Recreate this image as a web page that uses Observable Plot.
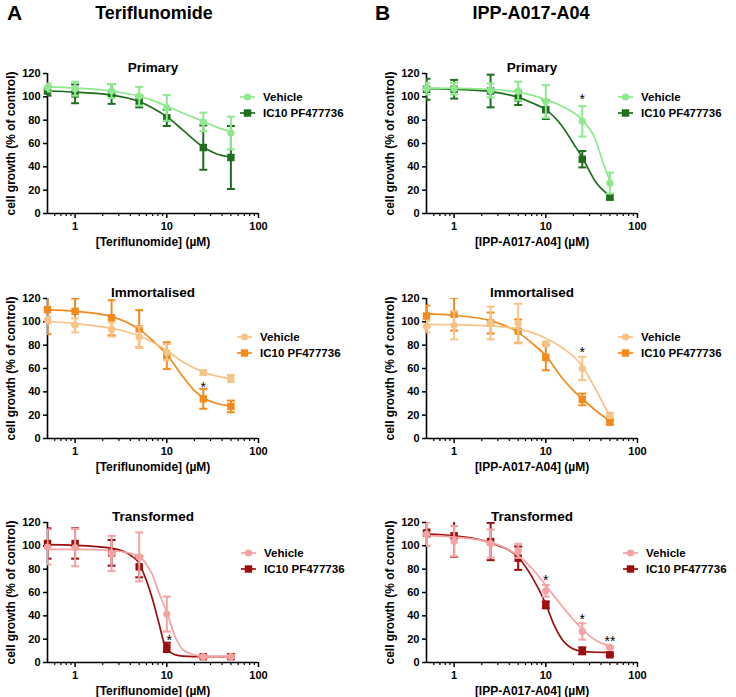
<!DOCTYPE html>
<html><head><meta charset="utf-8">
<script src="https://cdn.jsdelivr.net/npm/d3@7"></script>
<script src="https://cdn.jsdelivr.net/npm/@observablehq/plot@0.6"></script>
<style>
html,body{margin:0;padding:0;background:#fff;}
body{width:736px;height:697px;overflow:hidden;position:relative;font-family:"Liberation Sans",Arial,sans-serif;}
.panel{position:absolute;}
#overlay{position:absolute;left:0;top:0;pointer-events:none;}
</style></head><body>
<script>
// ---------- data ----------
const conc = [0.5, 1, 2.5, 5, 10, 25, 50];
const xMajorTicks = [1, 10, 100];
const xMinorTicks = [0.6, 0.7, 0.8, 0.9, 2, 3, 4, 5, 6, 7, 8, 9, 20, 30, 40, 50, 60, 70, 80, 90];
const yTicks = [0, 20, 40, 60, 80, 100, 120];
const seriesNames = ["Vehicle", "IC10 PF477736"];
const drugs = ["Teriflunomide", "IPP-A017-A04"];
const panelLetters = ["A", "B"];
const cellTypes = ["Primary", "Immortalised", "Transformed"];
const xLabels = ["[Teriflunomide] (µM)", "[IPP-A017-A04] (µM)"];
const yLabel = "cell growth (% of control)";

// Teriflunomide – Primary
const teriPriVeh = [108, 107, 105, 100.5, 90.5, 78.5, 69];
const teriPriVehErr = [3.5, 6, 6, 8, 11, 8, 14];
const teriPriIc = [105, 102.5, 102.5, 96, 82, 56.5, 48];
const teriPriIcErr = [4, 8, 8.5, 5, 7, 19, 27];
const teriPriVehFit = [[0.5,108.5],[1,107.5],[2.5,105],[5,100.5],[7,97],[10,92],[15,86],[25,79],[35,74],[50,70]];
const teriPriIcFit = [[0.5,105],[1,104],[2.5,101.5],[5,96],[7,90.5],[10,83],[15,71.5],[25,57],[35,51],[50,48.5]];
const teriPriStars = [];

// IPP-A017-A04 – Primary
const ippPriVeh = [107, 107, 105.5, 105, 96, 79, 26];
const ippPriVehErr = [5, 5, 6, 8, 14, 13, 9];
const ippPriIc = [106.5, 106.5, 105, 99, 89, 46.5, 14];
const ippPriIcErr = [9, 8, 14, 6, 8, 7, 2];
const ippPriVehFit = [[0.5,107.5],[1,107.3],[2.5,106.5],[5,104],[7,101.5],[10,97.5],[15,92],[25,80],[35,63],[42,44],[50,28]];
const ippPriIcFit = [[0.5,107],[1,106.5],[2.5,104.5],[5,99.5],[7,95],[10,89],[15,75],[20,60],[25,48],[35,27],[50,15]];
const ippPriStars = [[25, 101, "*"]];

// Teriflunomide – Immortalised
const teriImmVeh = [101.5, 97, 93.5, 87, 74, 56.5, 51.5];
const teriImmVehErr = [3, 6, 6, 9, 7, 2, 3];
const teriImmIc = [110.5, 109, 103.5, 94, 71, 34, 27.5];
const teriImmIcErr = [21, 11, 15, 16, 11.5, 8.5, 5];
const teriImmVehFit = [[0.5,100.5],[1,98.5],[2.5,94.5],[5,88],[7,82.5],[10,75.5],[15,65.5],[25,57],[35,53.5],[50,51.5]];
const teriImmIcFit = [[0.5,110.5],[1,109],[2.5,104.5],[5,93.5],[7,84],[10,72],[15,53],[20,41],[25,35],[35,30],[50,28]];
const teriImmStars = [[25, 47, "*"]];

// IPP-A017-A04 – Immortalised
const ippImmVeh = [96, 97, 99, 98.5, 81, 60, 20];
const ippImmVehErr = [5, 12, 14, 17, 2, 10, 2];
const ippImmIc = [105, 106.5, 99, 92, 69.5, 33.5, 14];
const ippImmIcErr = [9, 14, 9, 10, 11, 5, 2];
const ippImmVehFit = [[0.5,97.8],[1,97.5],[2.5,96.5],[5,94],[7,91],[10,86],[15,78],[25,62],[35,42],[50,19]];
const ippImmIcFit = [[0.5,107],[1,105.5],[2.5,101],[5,91],[7,82],[10,71],[15,52],[20,41],[25,34],[35,24],[50,15]];
const ippImmStars = [[25, 77, "*"]];

// Teriflunomide – Transformed
const teriTrVeh = [99, 98.5, 93.5, 90.5, 41.5, 5, 5];
const teriTrVehErr = [15, 16, 15, 21, 15, 1, 1];
const teriTrIc = [102, 102, 94, 82, 13, 5, 5];
const teriTrIcErr = [13, 13, 11, 9, 4, 1, 1];
const teriTrVehFit = [[0.5,97],[1,97],[2.5,96],[4,93.5],[5,91],[6,84],[7,75],[8,62],[10,43],[12.5,21],[15,11],[20,6.5],[25,5],[50,5]];
const teriTrIcFit = [[0.5,101],[1,100.5],[2.5,98],[4,92],[5,85],[6,70],[7,54],[8,37],[10,11],[12.5,6.5],[15,5.5],[25,5],[50,5]];
const teriTrStars = [[10.6, 22, "*"]];

// IPP-A017-A04 – Transformed
const ippTrVeh = [110, 104, 102, 95.7, 61.4, 26.6, 13];
const ippTrVehErr = [10, 13, 12, 6, 5, 7, 1];
const ippTrIc = [111, 108.6, 103.7, 89.4, 49.4, 10, 6.6];
const ippTrIcErr = [3, 18, 16, 10, 3, 3, 1];
const ippTrVehFit = [[0.5,109],[1,107.5],[2.5,103],[5,91.5],[7,81],[10,66],[15,48.5],[25,28.5],[35,19],[50,14]];
const ippTrIcFit = [[0.5,110],[1,108.5],[2.5,102.5],[5,90],[7,74],[10,50],[12.5,31],[15,20],[20,11.5],[25,9.5],[35,8.8],[50,8.7]];
const ippTrStars = [[10, 74, "*"], [25, 40, "*"], [50, 21, "**"]];

// colours per cell type: [vehicle, IC10]
const palette = {
  Primary: ["#8ee88e", "#1f6e1f"],
  Immortalised: ["#f8c386", "#f48a1c"],
  Transformed: ["#f4a2a2", "#9c0d0d"]
};

// ---------- layout ----------
const PW = 300, PH = 198, ML = 47, MT = 23, MB = 35, MR = 42;
const colLeft = [0, 379];
const rowTop = [50, 275, 499];
const legendRowOffset = [24, 39, 31]; // first legend row centre below plot top
const legendLeft = [[240, 618], [237, 618], [241, 623]];

const FONT = "'Liberation Sans', Arial, Helvetica, sans-serif";

const capSymbol = {
  draw(ctx, size) {
    const w = Math.sqrt(size / Math.PI);
    ctx.moveTo(-w, 0); ctx.lineTo(w, 0);
  }
};

function toRows(vals, errs) {
  return conc.map((c, i) => ({x: c, y: vals[i], lo: vals[i] - errs[i], hi: vals[i] + errs[i]}));
}
function toFit(pairs) { return pairs.map(([x, y]) => ({x, y})); }

function makePanel(cfg) {
  const [cV, cI] = palette[cfg.cell];
  const V = toRows(cfg.veh, cfg.vehErr), I = toRows(cfg.ic, cfg.icErr);
  const seriesMarks = (rows, fit, col, sym, r) => [
    Plot.ruleX(rows, {x: "x", y1: "lo", y2: "hi", stroke: col, strokeWidth: 2, clip: true}),
    Plot.dot(rows, {x: "x", y: "hi", symbol: capSymbol, r: 4, fill: "none", stroke: col, strokeWidth: 2, clip: true}),
    Plot.dot(rows, {x: "x", y: "lo", symbol: capSymbol, r: 4, fill: "none", stroke: col, strokeWidth: 2, clip: true}),
    Plot.line(toFit(fit), {x: "x", y: "y", stroke: col, strokeWidth: 1.7, curve: "monotone-x"}),
    Plot.dot(rows, {x: "x", y: "y", symbol: sym, r, fill: col, stroke: "none"})
  ];
  const stars = cfg.stars.map(([x, y, t]) => ({x, y, t}));
  return Plot.plot({
    width: PW, height: PH,
    marginLeft: ML, marginRight: MR, marginTop: MT, marginBottom: MB,
    style: {fontFamily: FONT, fontSize: "11px", fontWeight: "bold", color: "#000", background: "transparent", overflow: "visible"},
    x: {type: "log", domain: [0.5, 100]},
    y: {domain: [0, 120]},
    marks: [
      Plot.axisY({ticks: yTicks, tickSize: 4, tickPadding: 3, strokeWidth: 1.5, fontSize: 11, label: null}),
      Plot.axisY({ticks: [], tickSize: 0, fontSize: 12, fontWeight: "bold",
        label: yLabel, labelAnchor: "center", labelArrow: "none", labelOffset: 41}),
      Plot.axisX({ticks: xMajorTicks, tickSize: 5, tickPadding: 4, strokeWidth: 1.5, fontSize: 11,
        tickFormat: d => String(d), label: null}),
      Plot.axisX({ticks: [], tickSize: 0, fontSize: 12, fontWeight: "bold",
        label: cfg.xlabel, labelAnchor: "center", labelArrow: "none", labelOffset: 32}),
      Plot.axisX({ticks: xMinorTicks, tickSize: 3, strokeWidth: 1.2, tickFormat: () => "", label: null}),
      Plot.ruleY([0], {strokeWidth: 1.6}),
      Plot.ruleX([0.5], {strokeWidth: 1.6}),
      ...seriesMarks(I, cfg.icFit, cI, "square", 4.2),
      ...seriesMarks(V, cfg.vehFit, cV, "circle", 3.6),
      Plot.text(stars, {x: "x", y: "y", text: "t", fontSize: 14, fontWeight: "normal", lineAnchor: "middle", dy: 4, fill: "#000"}),
      Plot.text([cfg.cell], {frameAnchor: "top", dy: -11, fontSize: 13.5, fontWeight: "bold", fill: "#000"})
    ]
  });
}

const configs = [
  {cell: "Primary", col: 0, row: 0, xlabel: xLabels[0], veh: teriPriVeh, vehErr: teriPriVehErr, ic: teriPriIc, icErr: teriPriIcErr, vehFit: teriPriVehFit, icFit: teriPriIcFit, stars: teriPriStars},
  {cell: "Primary", col: 1, row: 0, xlabel: xLabels[1], veh: ippPriVeh, vehErr: ippPriVehErr, ic: ippPriIc, icErr: ippPriIcErr, vehFit: ippPriVehFit, icFit: ippPriIcFit, stars: ippPriStars},
  {cell: "Immortalised", col: 0, row: 1, xlabel: xLabels[0], veh: teriImmVeh, vehErr: teriImmVehErr, ic: teriImmIc, icErr: teriImmIcErr, vehFit: teriImmVehFit, icFit: teriImmIcFit, stars: teriImmStars},
  {cell: "Immortalised", col: 1, row: 1, xlabel: xLabels[1], veh: ippImmVeh, vehErr: ippImmVehErr, ic: ippImmIc, icErr: ippImmIcErr, vehFit: ippImmVehFit, icFit: ippImmIcFit, stars: ippImmStars},
  {cell: "Transformed", col: 0, row: 2, xlabel: xLabels[0], veh: teriTrVeh, vehErr: teriTrVehErr, ic: teriTrIc, icErr: teriTrIcErr, vehFit: teriTrVehFit, icFit: teriTrIcFit, stars: teriTrStars},
  {cell: "Transformed", col: 1, row: 2, xlabel: xLabels[1], veh: ippTrVeh, vehErr: ippTrVehErr, ic: ippTrIc, icErr: ippTrIcErr, vehFit: ippTrVehFit, icFit: ippTrIcFit, stars: ippTrStars}
];

for (const cfg of configs) {
  const div = document.createElement("div");
  div.className = "panel";
  div.style.left = colLeft[cfg.col] + "px";
  div.style.top = rowTop[cfg.row] + "px";
  div.appendChild(makePanel(cfg));
  document.body.appendChild(div);
}

// ---------- headers & legends (overlay) ----------
const svg = d3.select(document.body).append("svg").attr("id", "overlay")
  .attr("width", 736).attr("height", 697)
  .style("font-family", FONT).style("font-weight", "bold");

[[7, 154], [375, 531]].forEach(([lx, tx], i) => {
  svg.append("text").attr("x", lx).attr("y", 20).attr("font-size", 21).text(panelLetters[i]);
  svg.append("text").attr("x", tx).attr("y", 19).attr("font-size", 18).attr("text-anchor", "middle").text(drugs[i]);
});

configs.forEach(cfg => {
  const [cV, cI] = palette[cfg.cell];
  const x0 = legendLeft[cfg.row][cfg.col];
  const y0 = rowTop[cfg.row] + MT + legendRowOffset[cfg.row];
  const textX = x0 + 23;
  [[cV, "circle"], [cI, "square"]].forEach(([col, sym], k) => {
    const y = y0 + k * 16;
    const g = svg.append("g");
    g.append("line").attr("x1", x0).attr("x2", x0 + 15).attr("y1", y).attr("y2", y)
      .attr("stroke", col).attr("stroke-width", 1.7);
    if (sym === "circle") g.append("circle").attr("cx", x0 + 7.5).attr("cy", y).attr("r", 3.6).attr("fill", col);
    else g.append("rect").attr("x", x0 + 7.5 - 3.7).attr("y", y - 3.7).attr("width", 7.4).attr("height", 7.4).attr("fill", col);
    g.append("text").attr("x", textX).attr("y", y + 4).attr("font-size", 11.5).text(seriesNames[k]);
  });
});
</script>
</body></html>
